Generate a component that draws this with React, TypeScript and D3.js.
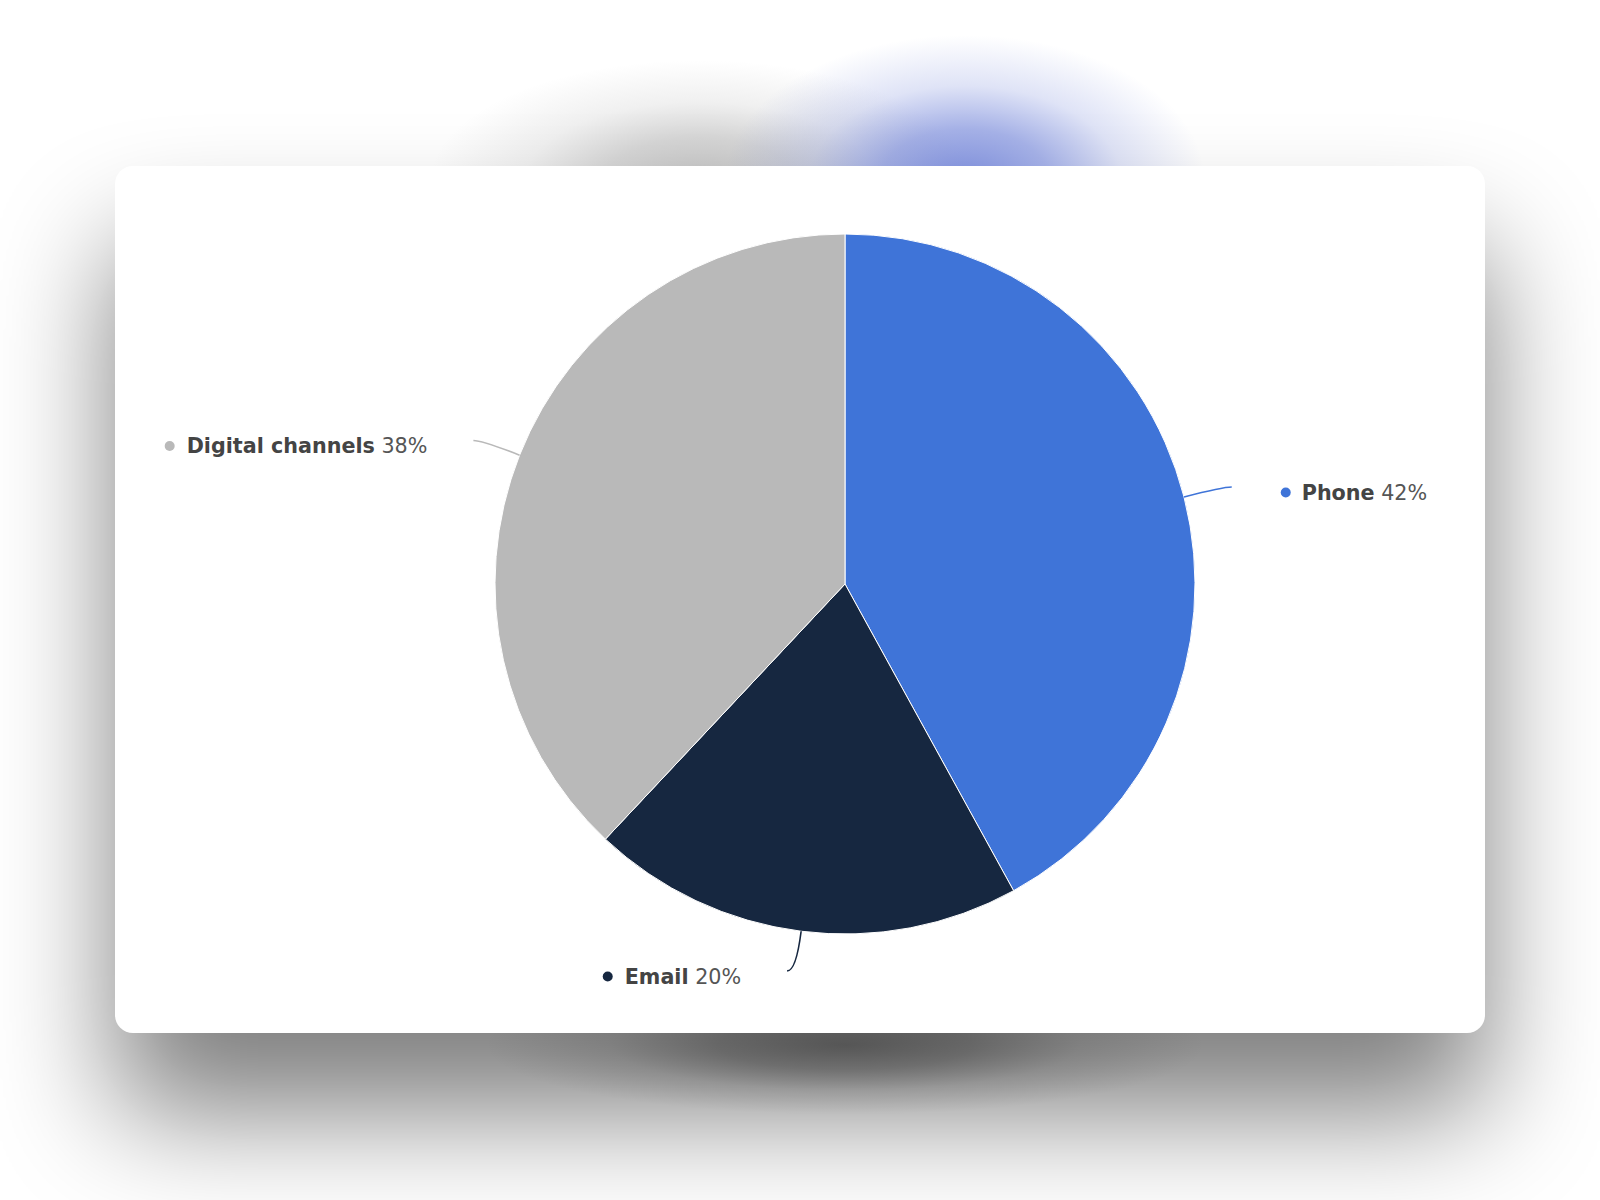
import React, { useEffect, useRef } from 'react'
import * as d3 from 'd3'

// chart data
const categories = ['Phone', 'Email', 'Digital channels']
const shares = [42, 20, 38]
const sliceColors = ['#3f74d8', '#162740', '#b9b9b9']

const W = 1600
const H = 1200
const card = { x: 115, y: 166, w: 1370, h: 867, r: 18 }
const cx = 845
const cy = 584
const radius = 350

// soft glows around the card: [cx, cy, rx, ry, colour, opacity]
const glows: [number, number, number, number, string, number][] = [
  [700, 180, 270, 120, '#7a7a7a', 0.45],
  [965, 180, 240, 145, '#5f74d4', 0.8],
  [845, 1045, 360, 70, '#1e1e1e', 0.5],
]

export default function App() {
  const ref = useRef<SVGSVGElement>(null)

  useEffect(() => {
    const svg = d3.select(ref.current)
    svg.selectAll('*').remove()

    const pie = d3.pie<number>().sort(null).value(d => d)
    const arcs = pie(shares)
    const arc = d3.arc<d3.PieArcDatum<number>>().innerRadius(0).outerRadius(radius)

    const defs = svg.append('defs')
    defs.append('filter').attr('id', 'cardShadow')
      .attr('x', '-40%').attr('y', '-40%').attr('width', '180%').attr('height', '180%')
      .append('feGaussianBlur').attr('stdDeviation', 60)

    glows.forEach((gl, i) => {
      const grad = defs.append('radialGradient').attr('id', `glow${i}`)
      const stops = [[0, 1], [0.35, 0.7], [0.65, 0.25], [1, 0]]
      stops.forEach(([o, a]) => {
        grad.append('stop')
          .attr('offset', o)
          .attr('stop-color', gl[4])
          .attr('stop-opacity', a * gl[5])
      })
    })

    // card drop shadow
    svg.append('rect')
      .attr('x', card.x).attr('y', card.y + 80)
      .attr('width', card.w).attr('height', card.h)
      .attr('rx', card.r)
      .attr('fill', '#000').attr('opacity', 0.5)
      .attr('filter', 'url(#cardShadow)')

    svg.selectAll('ellipse.glow')
      .data(glows)
      .join('ellipse')
      .attr('class', 'glow')
      .attr('cx', d => d[0]).attr('cy', d => d[1])
      .attr('rx', d => d[2]).attr('ry', d => d[3])
      .attr('fill', (d, i) => `url(#glow${i})`)

    // card
    svg.append('rect')
      .attr('x', card.x).attr('y', card.y)
      .attr('width', card.w).attr('height', card.h)
      .attr('rx', card.r)
      .attr('fill', '#ffffff')

    const g = svg.append('g').attr('transform', `translate(${cx},${cy})`)

    g.selectAll('path.slice')
      .data(arcs)
      .join('path')
      .attr('class', 'slice')
      .attr('d', arc)
      .attr('fill', (d, i) => sliceColors[i])
      .attr('stroke', '#ffffff')
      .attr('stroke-width', 1)
      .attr('stroke-linejoin', 'round')

    // connectors + labels
    const out = 40
    const hook = 9
    arcs.forEach((d, i) => {
      const mid = (d.startAngle + d.endAngle) / 2
      const sx = Math.sin(mid)
      const sy = -Math.cos(mid)
      const x0 = sx * radius
      const y0 = sy * radius
      const c1x = sx * (radius + out)
      const c1y = sy * (radius + out)
      const right = mid < Math.PI
      const x1 = c1x + (right ? hook : -hook)
      const y1 = c1y

      g.append('path')
        .attr('d', `M${x0},${y0} Q${c1x},${c1y} ${x1},${y1}`)
        .attr('fill', 'none')
        .attr('stroke', sliceColors[i])
        .attr('stroke-width', 1.6)

      const ly = y1 + 5.5
      const label = g.append('text')
        .attr('y', ly)
        .attr('dy', '0.35em')
        .attr('font-family', '"DejaVu Sans", Verdana, sans-serif')
        .attr('font-size', 20.7)
      label.append('tspan').attr('font-weight', 'bold').attr('fill', '#444444').text(categories[i])
      label.append('tspan').attr('fill', '#555555').text(` ${shares[i]}%`)

      let dotX
      if (right) {
        dotX = x1 + 54
        label.attr('x', dotX + 16).attr('text-anchor', 'start')
      } else {
        const endX = x1 - 46
        label.attr('x', endX).attr('text-anchor', 'end')
        const w = (label.node() as SVGTextElement).getComputedTextLength()
        dotX = endX - w - 17
      }
      g.append('circle')
        .attr('cx', dotX).attr('cy', ly)
        .attr('r', 5)
        .attr('fill', sliceColors[i])
    })
  }, [])

  return (
    <svg
      ref={ref}
      width={W}
      height={H}
      style={{ position: 'absolute', left: 0, top: 0, background: '#ffffff' }}
    />
  )
}
